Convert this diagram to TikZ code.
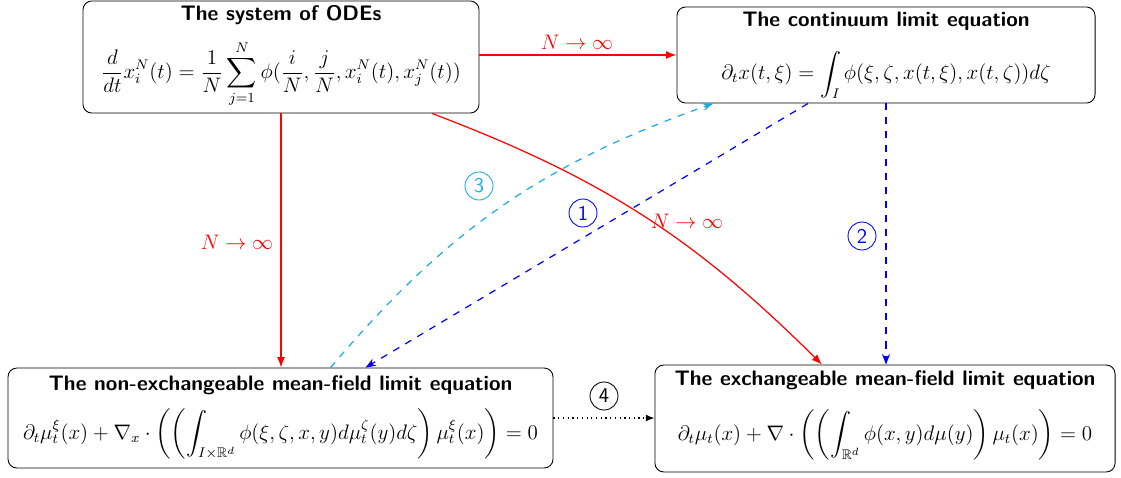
\documentclass[tikz,border=0pt]{standalone}
\usepackage{amsmath,amssymb}
\usetikzlibrary{arrows.meta}
\definecolor{mycyan}{RGB}{25,170,230}
\begin{document}
\begin{tikzpicture}[x=0.5714pt,y=-0.5714pt,
  box/.style={draw, rounded corners=5pt, line width=0.5pt, inner sep=0pt},
  ttl/.style={font=\large\sffamily\bfseries, inner sep=0pt},
  eqn/.style={font=\large, inner sep=0pt},
  lbl/.style={font=\large, inner sep=0pt},
  num/.style={draw, circle, font=\large\sffamily, minimum size=16pt, inner sep=0pt, line width=0.5pt},
  redarrow/.style={red, line width=0.7pt, -{Latex[length=6pt,width=4.5pt]}},
  bluedash/.style={blue, line width=0.7pt, dash pattern=on 4pt off 4pt, -{Stealth[length=6pt,width=4.5pt]}},
  cyandash/.style={mycyan, line width=0.7pt, dash pattern=on 4pt off 4pt, -{Stealth[length=6pt,width=4.5pt]}},
  dotarrow/.style={black, line width=0.7pt, dotted, -{Latex[length=5pt,width=4pt]}}]
\useasboundingbox (0,0) rectangle (1121,477);
% boxes
\node[box, minimum width=226.3pt, minimum height=64pt] (A) at (281,57) {};
\node[box, minimum width=238.9pt, minimum height=54.9pt] (B) at (886,55) {};
\node[box, minimum width=311.4pt, minimum height=57.1pt] (C) at (280.5,418) {};
\node[box, minimum width=262.9pt, minimum height=61.1pt] (D) at (885,418.5) {};
% titles
\node[ttl] (At) at (281,15) {The system of ODEs};
\node[ttl] (Bt) at (886,21) {The continuum limit equation};
\node[ttl] (Ct) at (280.5,385) {The non-exchangeable mean-field limit equation};
\node[ttl] (Dt) at (885,380) {The exchangeable mean-field limit equation};
% equations
\node[eqn] (Ae) at (281,74) {$\displaystyle \frac{d}{dt}x_i^N(t)=\frac{1}{N}\sum_{j=1}^{N}\phi(\frac{i}{N},\frac{j}{N},x_i^N(t),x_j^N(t))$};
\node[eqn] (Be) at (886,75) {$\displaystyle \partial_t x(t,\xi)=\int_I \phi(\xi,\zeta,x(t,\xi),x(t,\zeta))d\zeta$};
\node[eqn] (Ce) at (280.5,434) {$\displaystyle \partial_t\mu_t^\xi(x)+\nabla_x\cdot\left(\left(\int_{I\times\mathbb{R}^d}\phi(\xi,\zeta,x,y)d\mu_t^\zeta(y)d\zeta\right)\mu_t^\xi(x)\right)=0$};
\node[eqn] (De) at (885,435) {$\displaystyle \partial_t\mu_t(x)+\nabla\cdot\left(\left(\int_{\mathbb{R}^d}\phi(x,y)d\mu(y)\right)\mu_t(x)\right)=0$};
% connectors
\draw[redarrow] (A.east |- B.west) -- (B.west);
\draw[redarrow] (A.south) -- (A.south |- C.north);
\draw[redarrow] ([shift={(151,0)}]A.south) to[bend left=12] ([shift={(-63,0)}]D.north);
\draw[bluedash] (B.south) -- (B.south |- D.north);
\draw[bluedash] ([shift={(-78,0)}]B.south) -- ([shift={(85,0)}]C.north);
\draw[cyandash] ([shift={(50,0)}]C.north) to[bend left=15] ([shift={(-173,0)}]B.south);
\draw[dotarrow] (C.east) -- (C.east -| D.west);
% labels
\node[lbl, text=red] (l1) at (577,42) {$N\to\infty$};
\node[lbl, text=red] (l2) at (237,242) {$N\to\infty$};
\node[lbl, text=red] (l3) at (687,221) {$N\to\infty$};
\node[num, mycyan] (n3) at (479,186) {3};
\node[num, blue] (n1) at (583,213) {1};
\node[num, blue] (n2) at (862,236) {2};
\node[num] (n4) at (604,396) {4};
\end{tikzpicture}
\end{document}
